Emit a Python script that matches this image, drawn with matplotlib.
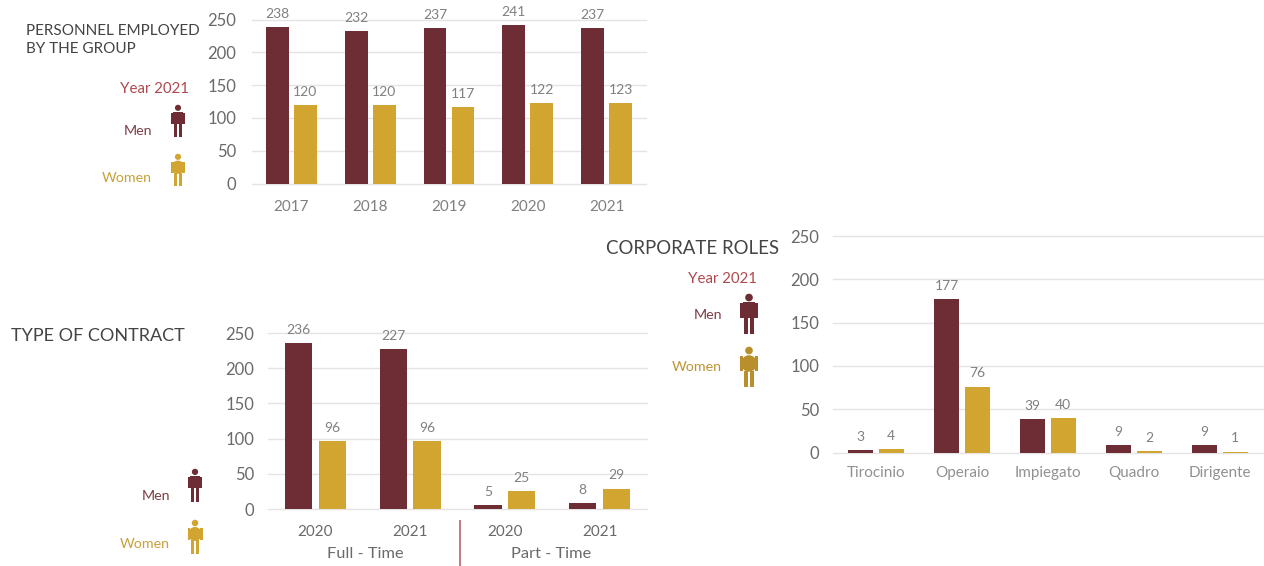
import matplotlib
matplotlib.use("Agg")
import matplotlib.pyplot as plt
from matplotlib.patches import Rectangle, Ellipse

W, H = 1264, 566
plt.rcParams['font.family'] = ['Lato', 'DejaVu Sans']
plt.rcParams['font.weight'] = 'normal'

MEN = '#6E2C34'
WOMEN = '#D1A52F'
GRID = '#E4E4E4'
TICK = '#6A6A6A'
LABEL = '#808080'

years = ['2017', '2018', '2019', '2020', '2021']
personnel_men = [238, 232, 237, 241, 237]
personnel_women = [120, 120, 117, 122, 123]

contract_years = ['2020', '2021', '2020', '2021']
contract_men = [236, 227, 5, 8]
contract_women = [96, 96, 25, 29]
contract_groups = ['Full - Time', 'Part - Time']

roles = ['Tirocinio', 'Operaio', 'Impiegato', 'Quadro', 'Dirigente']
roles_men = [3, 177, 39, 9, 9]
roles_women = [4, 76, 40, 2, 1]

y_ticks = [0, 50, 100, 150, 200, 250]

fig = plt.figure(figsize=(W / 100, H / 100), dpi=100, facecolor='white')


def bar_panel(left, right, top, bottom, cats, men, women, tickcolor, tickpad, ypad, labelsize=11):
    ax = fig.add_axes([left / W, 1 - bottom / H, (right - left) / W, (bottom - top) / H])
    ax.set_xlim(-0.5, len(cats) - 0.5)
    ax.set_ylim(0, 250)
    ax.patch.set_alpha(0)
    x = list(range(len(cats)))
    for xi, m, f in zip(x, men, women):
        ax.bar(xi - 0.178, m, width=0.29, color=MEN, zorder=3, clip_on=False)
        ax.bar(xi + 0.178, f, width=0.29, color=WOMEN, zorder=3, clip_on=False)
        ax.annotate(str(m), (xi - 0.178, m), xytext=(0, 9.5), textcoords='offset points',
                    ha='center', va='center', fontsize=10, color=LABEL, annotation_clip=False)
        ax.annotate(str(f), (xi + 0.178, f), xytext=(0, 9.5), textcoords='offset points',
                    ha='center', va='center', fontsize=10, color=LABEL, annotation_clip=False)
    ax.set_yticks(y_ticks)
    ax.set_xticks(x)
    ax.set_xticklabels(cats, fontsize=labelsize, color=tickcolor)
    ax.tick_params(axis='y', length=0, labelsize=12, labelcolor=TICK, pad=ypad)
    ax.tick_params(axis='x', length=0, pad=tickpad)
    ax.grid(axis='y', color=GRID, linewidth=1, zorder=0, clip_on=False)
    ax.set_axisbelow(True)
    for s in ax.spines.values():
        s.set_visible(False)
    return ax


bar_panel(252, 646, 19.5, 183.5, years, personnel_men, personnel_women, LABEL, 12, 11.5)
bar_panel(268, 647, 333, 509, contract_years, contract_men, contract_women, TICK, 11.5, 10)
bar_panel(833, 1263, 236, 452.5, roles, roles_men, roles_women, '#919191', 10, 10, labelsize=11)

# Overlay in pixel coordinates for titles, keys, icons
ov = fig.add_axes([0, 0, 1, 1], zorder=10)
ov.set_xlim(0, W)
ov.set_ylim(H, 0)
ov.axis('off')
ov.patch.set_alpha(0)

TITLE = '#444444'
ov.text(26, 31, 'PERSONNEL EMPLOYED', fontsize=11, color=TITLE, va='center', ha='left')
ov.text(26, 49, 'BY THE GROUP', fontsize=11, color=TITLE, va='center', ha='left')
ov.text(11, 336, 'TYPE OF CONTRACT', fontsize=13, color=TITLE, va='center', ha='left')
ov.text(606, 248, 'CORPORATE ROLES', fontsize=13.4, color=TITLE, va='center', ha='left')

YEAR = '#B0494F'
ov.text(189, 89, 'Year 2021', fontsize=10.8, color=YEAR, va='center', ha='right')
ov.text(757, 279, 'Year 2021', fontsize=10.8, color=YEAR, va='center', ha='right')

MEN_T = '#7F3F47'
WOM_T = '#C9A13A'
for xr, y, s, c in [(152, 131, 'Men', MEN_T), (152, 178, 'Women', WOM_T),
                    (170, 496, 'Men', MEN_T), (170, 544, 'Women', WOM_T),
                    (722, 315, 'Men', MEN_T), (722, 367, 'Women', '#BE9533')]:
    ov.text(xr, y, s, fontsize=10.3, color=c, va='center', ha='right')


def person(cx, top, h, color, female=False):
    u = h / 34.0
    ov.add_patch(Ellipse((cx, top + 3 * u), 6.5 * u, 6.5 * u, color=color, lw=0))
    if female:
        ov.add_patch(Ellipse((cx, top + 14 * u), 13.5 * u, 14 * u, color=color, lw=0))
    else:
        ov.add_patch(Rectangle((cx - 5 * u, top + 7 * u), 10 * u, 13 * u, color=color, lw=0))
    ov.add_patch(Rectangle((cx - 7.5 * u, top + 8 * u), 2.8 * u, 12 * u, color=color, lw=0))
    ov.add_patch(Rectangle((cx + 4.7 * u, top + 8 * u), 2.8 * u, 12 * u, color=color, lw=0))
    ov.add_patch(Rectangle((cx - 4 * u, top + 20 * u), 3.3 * u, 14 * u, color=color, lw=0))
    ov.add_patch(Rectangle((cx + 0.7 * u, top + 20 * u), 3.3 * u, 14 * u, color=color, lw=0))


person(178, 105, 32, MEN)
person(178, 154, 32, WOMEN, True)
person(195, 469, 33, MEN)
person(195, 520, 34, WOMEN, True)
person(749, 294, 40, MEN)
person(749, 347, 40, '#B88F2C', True)

ov.plot([459.5, 459.5], [520, 566], color='#B5686C', lw=1.2, solid_capstyle='butt')
ov.text(365.5, 554.5, contract_groups[0], fontsize=11.8, color=TICK, va='center', ha='center')
ov.text(551.5, 554.5, contract_groups[1], fontsize=11.8, color=TICK, va='center', ha='center')

fig.savefig('out.png', dpi=100)
